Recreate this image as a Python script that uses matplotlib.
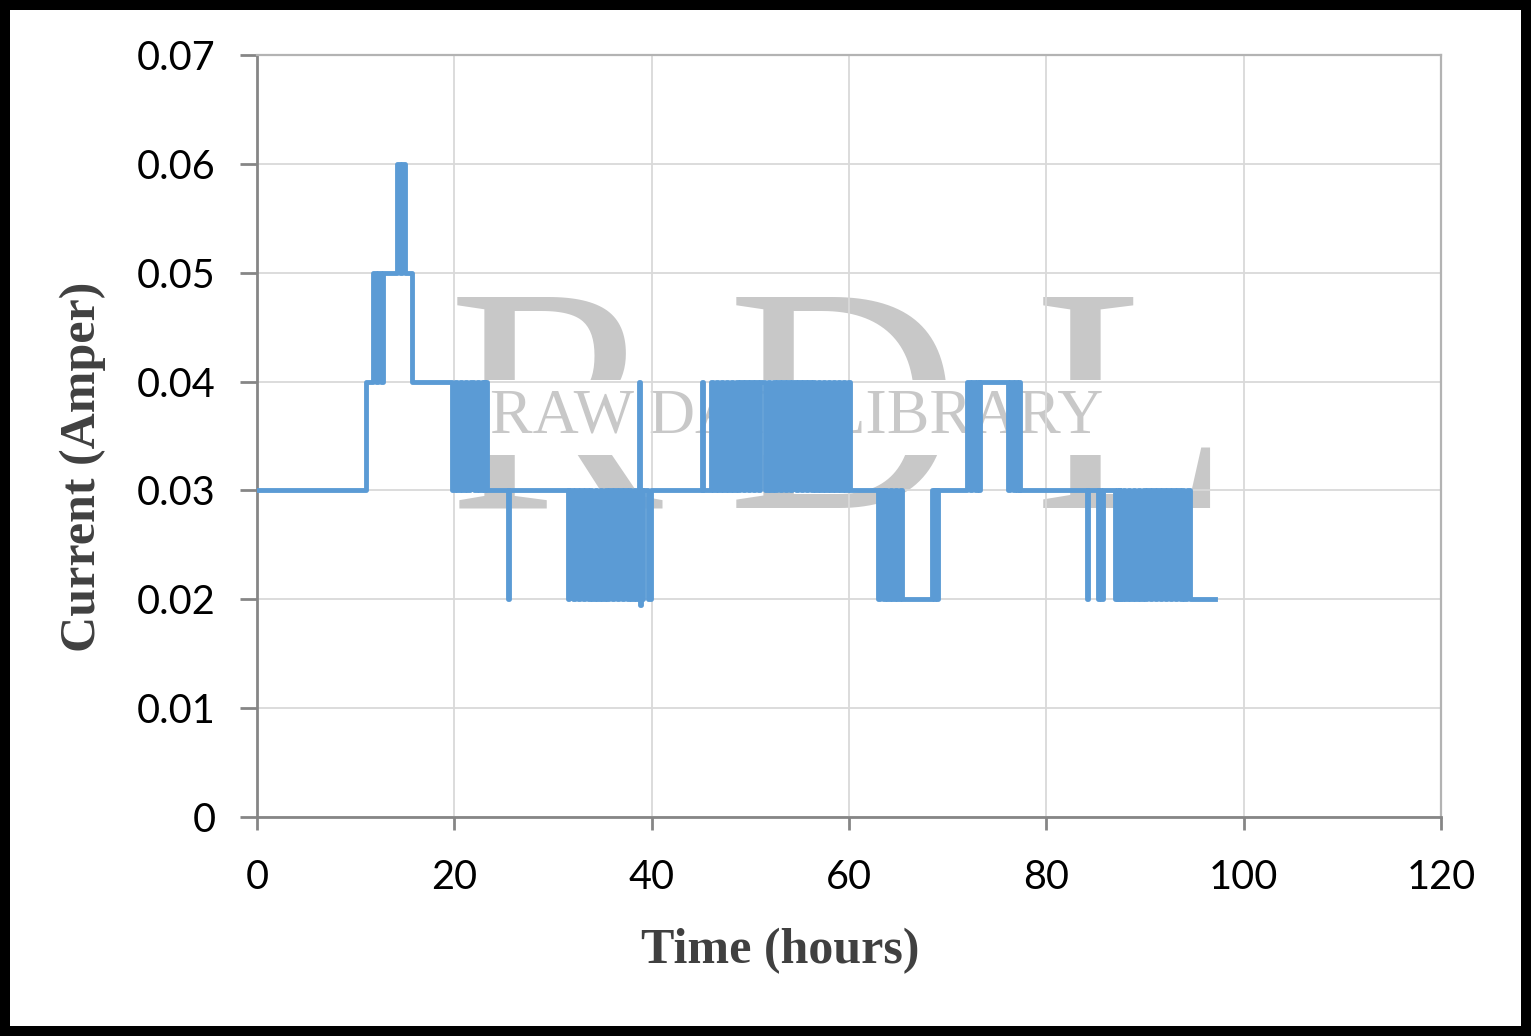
import matplotlib.pyplot as plt

# -----------------------------------
# DATA
# time in hours where the current changes, and the current from that time on
# -----------------------------------

time_h = [
    0.0, 11.05,
    11.8, 12.05, 12.3, 12.55, 12.8,
    14.2, 14.45, 14.7, 14.95,
    15.7,
    19.8, 20.05, 20.3, 20.55, 20.8, 21.05, 21.3, 21.55,
    22.0, 22.25, 22.5, 22.75, 23.0, 23.15, 23.3,
    25.4, 25.55,
    31.5, 31.65,
    32.0, 32.25, 32.5, 32.75, 33.0, 33.25, 33.5, 33.75, 34.0, 34.25, 34.5, 34.75, 35.0,
    35.3, 35.45, 35.7, 35.95, 36.2, 36.45, 36.7, 36.95, 37.2, 37.45, 37.7, 37.95, 38.2, 38.45,
    38.7, 38.78, 38.9, 39.05, 39.15,
    39.6, 39.9,
    45.1, 45.2,
    46.0, 46.25, 46.5, 46.75, 47.0, 47.25, 47.5, 47.75, 48.0, 48.25, 48.5, 48.75,
    49.0, 49.25, 49.5, 49.75, 50.0, 50.25, 50.5, 50.75, 51.0,
    51.5, 51.75, 52.0, 52.25, 52.5, 52.75, 53.0, 53.25, 53.5, 53.75, 54.0, 54.2,
    54.6, 54.85, 55.1, 55.35, 55.6, 55.85, 56.1, 56.35, 56.6, 56.85, 57.1, 57.35,
    57.6, 57.85, 58.1, 58.35, 58.6, 58.85, 59.1, 59.35, 59.6, 59.85, 60.05, 60.3,
    62.9, 63.15, 63.4, 63.65, 63.9, 64.15, 64.4, 64.65, 64.9, 65.15, 65.4,
    68.4, 68.6, 68.75, 68.9, 69.0,
    72.0, 72.25, 72.5, 72.75, 73.0, 73.15, 73.3,
    76.1, 76.35, 76.6, 76.85, 77.05, 77.2, 77.35,
    84.1, 84.25,
    85.2, 85.35, 85.55, 85.7,
    87.0, 87.15, 87.3, 87.45,
    87.5, 87.75, 88.0, 88.25, 88.5, 88.75, 89.0, 89.25, 89.5, 89.75, 90.0, 90.25,
    90.5, 90.75, 91.0, 91.25, 91.5, 91.75, 92.0, 92.25, 92.5, 92.75, 93.0, 93.25,
    93.5, 93.75, 94.0, 94.25, 94.6,
    97.1,
]

current_a = [
    0.03, 0.04,
    0.05, 0.04, 0.05, 0.04, 0.05,
    0.06, 0.05, 0.06, 0.05,
    0.04,
    0.03, 0.04, 0.03, 0.04, 0.03, 0.04, 0.03, 0.04,
    0.03, 0.04, 0.03, 0.04, 0.03, 0.04, 0.03,
    0.02, 0.03,
    0.02, 0.03,
    0.02, 0.03, 0.02, 0.03, 0.02, 0.03, 0.02, 0.03, 0.02, 0.03, 0.02, 0.03, 0.02,
    0.03, 0.02, 0.03, 0.02, 0.03, 0.02, 0.03, 0.02, 0.03, 0.02, 0.03, 0.02, 0.03, 0.02,
    0.04, 0.0195, 0.03, 0.02, 0.03,
    0.02, 0.03,
    0.04, 0.03,
    0.04, 0.03, 0.04, 0.03, 0.04, 0.03, 0.04, 0.03, 0.04, 0.03, 0.04, 0.03,
    0.04, 0.03, 0.04, 0.03, 0.04, 0.03, 0.04, 0.03, 0.04,
    0.03, 0.04, 0.03, 0.04, 0.03, 0.04, 0.03, 0.04, 0.03, 0.04, 0.03, 0.04,
    0.03, 0.04, 0.03, 0.04, 0.03, 0.04, 0.03, 0.04, 0.03, 0.04, 0.03, 0.04,
    0.03, 0.04, 0.03, 0.04, 0.03, 0.04, 0.03, 0.04, 0.03, 0.04, 0.03, 0.03,
    0.02, 0.03, 0.02, 0.03, 0.02, 0.03, 0.02, 0.03, 0.02, 0.03, 0.02,
    0.03, 0.02, 0.03, 0.02, 0.03,
    0.04, 0.03, 0.04, 0.03, 0.04, 0.03, 0.04,
    0.03, 0.04, 0.03, 0.04, 0.03, 0.04, 0.03,
    0.02, 0.03,
    0.02, 0.03, 0.02, 0.03,
    0.02, 0.03, 0.02, 0.03,
    0.02, 0.03, 0.02, 0.03, 0.02, 0.03, 0.02, 0.03, 0.02, 0.03, 0.02, 0.03,
    0.02, 0.03, 0.02, 0.03, 0.02, 0.03, 0.02, 0.03, 0.02, 0.03, 0.02, 0.03,
    0.02, 0.03, 0.02, 0.03, 0.02,
    0.02,
]

x_ticks = [0, 20, 40, 60, 80, 100, 120]
y_ticks = [0, 0.01, 0.02, 0.03, 0.04, 0.05, 0.06, 0.07]
y_tick_labels = ["0", "0.01", "0.02", "0.03", "0.04", "0.05", "0.06", "0.07"]

# -----------------------------------
# FIGURE
# -----------------------------------

fig = plt.figure(figsize=(15.31, 10.36), dpi=100)
fig.patch.set_facecolor("white")
fig.patch.set_edgecolor("black")
fig.patch.set_linewidth(13)

ax = fig.add_axes([0.1679, 0.2114, 0.7733, 0.7355])

# watermark
wm_color = "#c8c8c8"
for letter, xpos in [("R", 0.252), ("D", 0.495), ("L", 0.739)]:
    ax.text(xpos, 0.405, letter, transform=ax.transAxes, fontsize=232,
            family="Liberation Serif", color=wm_color, ha="center",
            va="baseline", zorder=0.1)
ax.text(0.456, 0.524, "RAW DATA LIBRARY", transform=ax.transAxes,
        fontsize=46, family="Liberation Serif", color=wm_color,
        ha="center", va="center", zorder=0.2,
        bbox=dict(facecolor="white", edgecolor="none", pad=6))

ax.plot(time_h, current_a, drawstyle="steps-post", color="#5b9bd5",
        linewidth=3.5, zorder=3)

ax.set_xlim(0, 120)
ax.set_ylim(0, 0.07)
ax.set_xticks(x_ticks)
ax.set_xticklabels([str(v) for v in x_ticks])
ax.set_yticks(y_ticks)
ax.set_yticklabels(y_tick_labels)

ax.set_axisbelow(True)
ax.grid(True, color="#d9d9d9", linewidth=1.3, zorder=0.5)

for side in ["top", "right"]:
    ax.spines[side].set_color("#b3b3b3")
    ax.spines[side].set_linewidth(1.6)
for side in ["left", "bottom"]:
    ax.spines[side].set_color("#868686")
    ax.spines[side].set_linewidth(2.0)

ax.tick_params(axis="y", length=12, width=2, color="#868686",
               pad=18, labelsize=28.5, labelfontfamily="Lato")
ax.tick_params(axis="x", length=9, width=2, color="#868686",
               pad=21, labelsize=28.5, labelfontfamily="Lato")

ax.set_xlabel("Time (hours)", fontsize=36, fontweight="bold",
              family="Liberation Serif", color="#404040")
ax.xaxis.set_label_coords(0.442, -0.146)
ax.set_ylabel("Current (Amper)", fontsize=36, fontweight="bold",
              family="Liberation Serif", color="#404040")
ax.yaxis.set_label_coords(-0.128, 0.459)

plt.savefig("out.png", dpi=100, facecolor="white", edgecolor="black")
